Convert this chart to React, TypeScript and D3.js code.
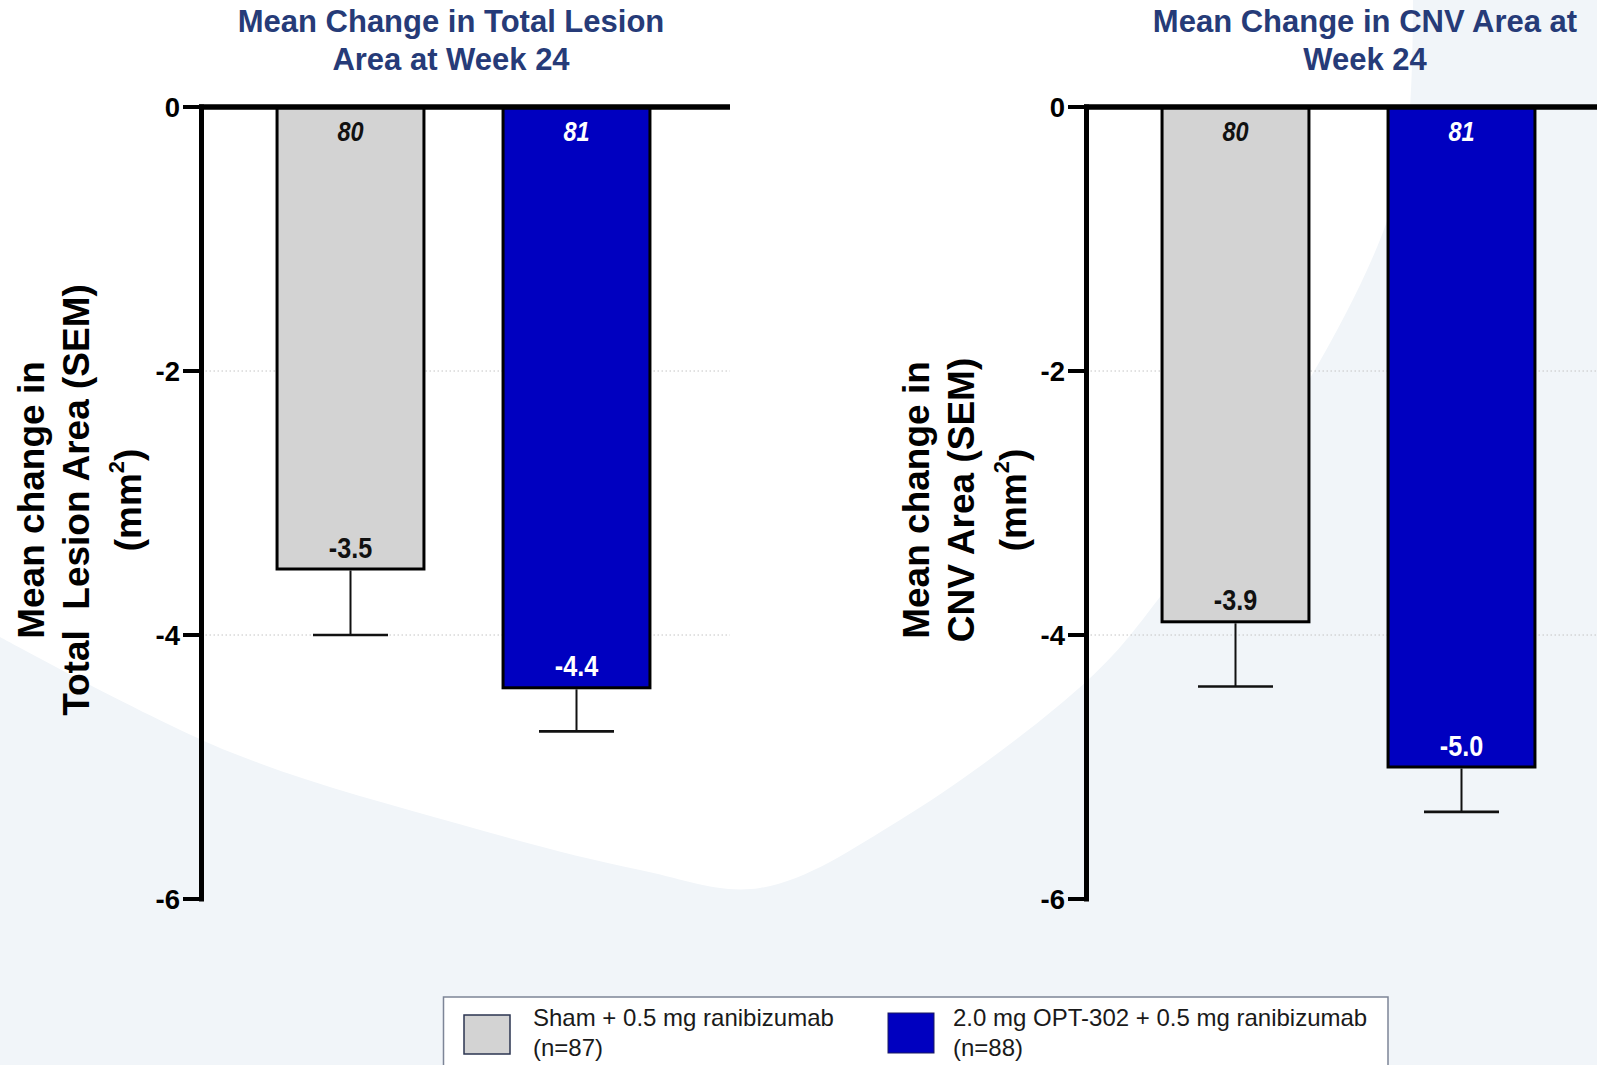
import React, { useEffect } from "react";
import * as d3 from "d3";

// ---- data ----
const groups = ["Sham + 0.5 mg ranibizumab", "2.0 mg OPT-302 + 0.5 mg ranibizumab"];
const groupN = ["(n=87)", "(n=88)"];
const barCounts = [80, 81];
const lesionMeans = [-3.5, -4.4];
const lesionSem = [0.5, 0.33];
const cnvMeans = [-3.9, -5.0];
const cnvSem = [0.49, 0.34];
const yTicks = [0, -2, -4, -6];
const yGrid = [-2, -4];
const panelTitles = [
  ["Mean Change in Total Lesion", "Area at Week 24"],
  ["Mean Change in CNV Area at", "Week 24"],
];
const yTitles = [
  ["Mean change in", "Total\u00a0 Lesion Area (SEM)"],
  ["Mean change in", "CNV Area (SEM)"],
];

// ---- styling ----
const W = 1597;
const H = 1065;
const TITLE_COLOR = "#263b78";
const BAR_FILL = ["#d3d3d3", "#0000c0"];
const LABEL_FILL = ["#111111", "#ffffff"];
const SANS = "'Liberation Sans', Arial, Helvetica, sans-serif";

// background decoration outline (white area, top-left)
const whiteEdge: [number, number][] = [
  [1413, 0], [1408, 130], [1386, 224], [1309, 380], [1160, 597], [1089, 679], [900, 820],
  [760, 888], [640, 870], [459, 824], [230, 752], [0, 637],
];

const y = d3.scaleLinear().domain([0, -6]).range([107, 899]);

interface PanelProps {
  axisX: number;
  titleX: number;
  title: string[];
  yTitle: string[];
  means: number[];
  sems: number[];
  lineEnd: number;
}

function NarrowText(props: {
  x: number; y: number; text: string; size: number; fill: string; italic?: boolean; squeeze: number;
}) {
  return (
    <g transform={`translate(${props.x},${props.y}) scale(${props.squeeze},1)`}>
      <text
        x={0}
        y={0}
        textAnchor="middle"
        fontFamily={SANS}
        fontWeight="bold"
        fontStyle={props.italic ? "italic" : "normal"}
        fontSize={props.size}
        fill={props.fill}
      >
        {props.text}
      </text>
    </g>
  );
}

function Panel({ axisX, titleX, title, yTitle, means, sems, lineEnd }: PanelProps) {
  const x = d3
    .scaleBand<string>()
    .domain(groups)
    .range([axisX + 36, axisX + 488])
    .paddingInner(0.35)
    .paddingOuter(0.175);
  const bw = x.bandwidth();
  const y0 = y(0);
  const yBottom = y(-6);

  return (
    <g>
      {/* panel title */}
      {title.map((t, i) => (
        <text
          key={t}
          x={titleX}
          y={32 + i * 38}
          textAnchor="middle"
          fontFamily={SANS}
          fontWeight="bold"
          fontSize={31}
          fill={TITLE_COLOR}
        >
          {t}
        </text>
      ))}

      {/* y axis title */}
      <g fontFamily={SANS} fontWeight="bold" fontSize={37} fill="#000">
        <text transform={`translate(${axisX - 157.5},500) rotate(-90)`} textAnchor="middle">
          {yTitle[0]}
        </text>
        <text transform={`translate(${axisX - 112.5},500) rotate(-90)`} textAnchor="middle">
          {yTitle[1]}
        </text>
        <text transform={`translate(${axisX - 61},500) rotate(-90)`} textAnchor="middle">
          <tspan>(mm</tspan>
          <tspan fontSize={22} dy={-17}>2</tspan>
          <tspan dy={17}>)</tspan>
        </text>
      </g>

      {/* dotted grid */}
      {yGrid.map((v) => (
        <line
          key={v}
          x1={axisX}
          x2={lineEnd}
          y1={y(v)}
          y2={y(v)}
          stroke="#c4c4c4"
          strokeWidth={1}
          strokeDasharray="1.5,2.5"
        />
      ))}

      {/* bars */}
      {groups.map((g, i) => {
        const bx = x(g) as number;
        const cx = bx + bw / 2;
        const yb = y(means[i]);
        return (
          <g key={g}>
            <rect
              x={bx}
              y={y0}
              width={bw}
              height={yb - y0}
              fill={BAR_FILL[i]}
              stroke="#000"
              strokeWidth={3}
            />
            {/* SEM whisker */}
            <line x1={cx} x2={cx} y1={yb + 1.5} y2={y(means[i] - sems[i])} stroke="#111" strokeWidth={2} />
            <line
              x1={cx - 37.5}
              x2={cx + 37.5}
              y1={y(means[i] - sems[i])}
              y2={y(means[i] - sems[i])}
              stroke="#111"
              strokeWidth={2.6}
            />
            <NarrowText x={cx} y={y0 + 34} text={String(barCounts[i])} size={28} squeeze={0.84} fill={LABEL_FILL[i]} italic />
            <NarrowText x={cx} y={yb - 11.5} text={means[i].toFixed(1)} size={30} squeeze={0.84} fill={LABEL_FILL[i]} />
          </g>
        );
      })}

      {/* axes */}
      <line x1={axisX} x2={axisX} y1={y0 - 2.5} y2={yBottom + 2.5} stroke="#000" strokeWidth={5} />
      <line x1={axisX - 2.5} x2={lineEnd} y1={y0} y2={y0} stroke="#000" strokeWidth={5.5} />
      {yTicks.map((v) => (
        <g key={v}>
          <line x1={axisX - 18.5} x2={axisX} y1={y(v)} y2={y(v)} stroke="#000" strokeWidth={4} />
          <text
            x={axisX - 21.5}
            y={y(v)}
            dy="0.36em"
            textAnchor="end"
            fontFamily={SANS}
            fontWeight="bold"
            fontSize={27.5}
            fill="#000"
          >
            {v === 0 ? "0" : String(v)}
          </text>
        </g>
      ))}
    </g>
  );
}

export default function App() {
  useEffect(() => {
    document.body.style.margin = "0";
  }, []);

  const curve = d3.line().curve(d3.curveCatmullRom);
  const whitePath = `M0,0 ${(curve(whiteEdge) || "").replace("M", "L")} L0,0 Z`;

  return (
    <svg
      width={W}
      height={H}
      viewBox={`0 0 ${W} ${H}`}
      style={{ position: "absolute", left: 0, top: 0, display: "block" }}
    >
      <rect x={0} y={0} width={W} height={H} fill="#f1f5f9" />
      <path d={whitePath} fill="#ffffff" />

      <Panel
        axisX={201.5}
        titleX={451}
        title={panelTitles[0]}
        yTitle={yTitles[0]}
        means={lesionMeans}
        sems={lesionSem}
        lineEnd={730}
      />
      <Panel
        axisX={1086.5}
        titleX={1365}
        title={panelTitles[1]}
        yTitle={yTitles[1]}
        means={cnvMeans}
        sems={cnvSem}
        lineEnd={W + 20}
      />

      {/* legend */}
      <rect x={443.5} y={997} width={944.5} height={90} fill="#ffffff" stroke="#7d8597" strokeWidth={1.5} />
      <rect x={464} y={1015} width={46} height={39} fill={BAR_FILL[0]} stroke="#2b3550" strokeWidth={1.5} />
      <rect x={888} y={1013} width={46} height={40} fill={BAR_FILL[1]} stroke="#1a1a60" strokeWidth={1} />
      {groups.map((g, i) => (
        <g key={g} fontFamily={SANS} fontSize={24} fill="#1a1a1a">
          <text x={i === 0 ? 533 : 953} y={1026}>{g}</text>
          <text x={i === 0 ? 533 : 953} y={1056}>{groupN[i]}</text>
        </g>
      ))}
    </svg>
  );
}
